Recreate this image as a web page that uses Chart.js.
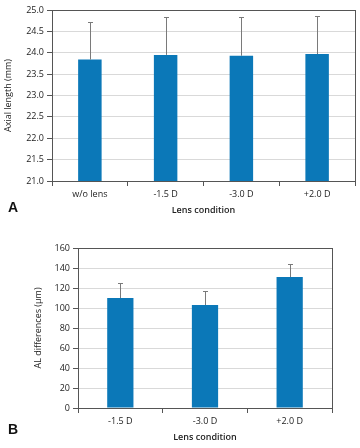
<!DOCTYPE html>
<html>
<head>
<meta charset="utf-8">
<script src="https://cdn.jsdelivr.net/npm/chart.js@4"></script>
<style>
html,body{margin:0;padding:0;background:#fff;width:360px;height:448px;overflow:hidden;}
#wrapA{position:absolute;left:0;top:0;width:360px;height:220px;}
#wrapB{position:absolute;left:0;top:220px;width:360px;height:228px;}
.lbl{position:absolute;font-family:"Liberation Sans",Arial,sans-serif;font-weight:bold;font-size:14px;color:#111;}
</style>
</head>
<body>
<div id="wrapA"><canvas id="cA" width="360" height="220"></canvas></div>
<div id="wrapB"><canvas id="cB" width="360" height="228"></canvas></div>
<div class="lbl" style="left:8px;top:199px;">A</div>
<div class="lbl" style="left:8px;top:421px;">B</div>
<script>
// Panel A data
const categoriesA = ["w/o lens", "-1.5 D", "-3.0 D", "+2.0 D"];
const valuesA = [23.84, 23.95, 23.93, 23.97];
const errorsA = [0.88, 0.88, 0.90, 0.89];
const ticksA = [21.0, 21.5, 22.0, 22.5, 23.0, 23.5, 24.0, 24.5, 25.0];

// Panel B data
const categoriesB = ["-1.5 D", "-3.0 D", "+2.0 D"];
const valuesB = [110, 103, 131];
const errorsB = [15, 14, 13];
const ticksB = [0, 20, 40, 60, 80, 100, 120, 140, 160];

const xTitle = "Lens condition";
const yTitleA = "Axial length (mm)";
const yTitleB = "AL differences (\u00b5m)";

const FONT = '"Open Sans", "Liberation Sans", sans-serif';
const BAR = '#0b78b8';
const AXIS = '#555555';
const GRID = '#d9d9d9';

const errorBarPlugin = {
  id: 'errorBars',
  afterDatasetsDraw(chart, args, opts) {
    const ctx = chart.ctx;
    const meta = chart.getDatasetMeta(0);
    const ys = chart.scales.y;
    const errs = opts.errors;
    const vals = chart.data.datasets[0].data;
    ctx.save();
    ctx.strokeStyle = '#7a7a7a';
    ctx.lineWidth = 1;
    meta.data.forEach((bar, i) => {
      const x = Math.round(bar.x) + 0.5;
      const y0 = ys.getPixelForValue(vals[i]);
      const y1 = Math.round(ys.getPixelForValue(vals[i] + errs[i])) + 0.5;
      ctx.beginPath();
      ctx.moveTo(x, y0);
      ctx.lineTo(x, y1);
      ctx.moveTo(x - 2.5, y1);
      ctx.lineTo(x + 2.5, y1);
      ctx.stroke();
    });
    ctx.restore();
  }
};

const framePlugin = {
  id: 'frame',
  afterDraw(chart) {
    const a = chart.chartArea;
    const ctx = chart.ctx;
    ctx.save();
    ctx.strokeStyle = AXIS;
    ctx.lineWidth = 1;
    ctx.beginPath();
    const xr = Math.round(a.right) + 0.5;
    ctx.moveTo(xr, a.top);
    ctx.lineTo(xr, a.bottom + 3);
    ctx.stroke();
    ctx.restore();
  }
};

function makeChart(id, cats, vals, errs, ticks, yTitle, yWidth, pad, yTitlePad) {
  const min = ticks[0], max = ticks[ticks.length - 1];
  const step = ticks[1] - ticks[0];
  const dec = (step % 1 !== 0) ? 1 : 0;
  return new Chart(document.getElementById(id), {
    type: 'bar',
    data: {
      labels: cats,
      datasets: [{
        data: vals,
        backgroundColor: BAR,
        borderWidth: 0,
        categoryPercentage: 1.0,
        barPercentage: 0.31
      }]
    },
    options: {
      responsive: false,
      animation: false,
      devicePixelRatio: 1,
      layout: { padding: pad },
      plugins: {
        legend: { display: false },
        tooltip: { enabled: false },
        errorBars: { errors: errs }
      },
      scales: {
        x: {
          offset: true,
          grid: {
            offset: true,
            drawOnChartArea: false,
            tickLength: 5,
            tickColor: AXIS
          },
          border: { color: AXIS, width: 1 },
          ticks: { color: '#222', font: { family: FONT, size: 9 }, padding: 3, maxRotation: 0 },
          title: {
            display: true, text: xTitle, color: '#222',
            font: { family: FONT, size: 9, weight: '600' },
            padding: { top: 0, bottom: 4.6 }
          },
          afterFit(s) { s.height = 39; }
        },
        y: {
          min: min, max: max,
          afterBuildTicks(s) { s.ticks = ticks.map(v => ({ value: v })); },
          grid: {
            color: c => (c.tick && c.tick.value === max) ? AXIS : GRID,
            tickLength: 5,
            tickColor: AXIS
          },
          border: { color: AXIS, width: 1 },
          ticks: {
            color: '#222', font: { family: FONT, size: 9 }, padding: 3,
            callback: v => Number(v).toFixed(dec)
          },
          title: {
            display: true, text: yTitle, color: '#222',
            font: { family: FONT, size: 9 },
            padding: { top: yTitlePad, bottom: 0 }
          },
          afterFit(s) { s.width = yWidth; }
        }
      }
    },
    plugins: [errorBarPlugin, framePlugin]
  });
}

makeChart('cA', categoriesA, valuesA, errorsA, ticksA, yTitleA, 52,
  { top: 10, right: 5, left: 0, bottom: 0 }, 2.6);
makeChart('cB', categoriesB, valuesB, errorsB, ticksB, yTitleB, 78,
  { top: 28, right: 28, left: 0, bottom: 1 }, 32.6);
</script>
</body>
</html>
